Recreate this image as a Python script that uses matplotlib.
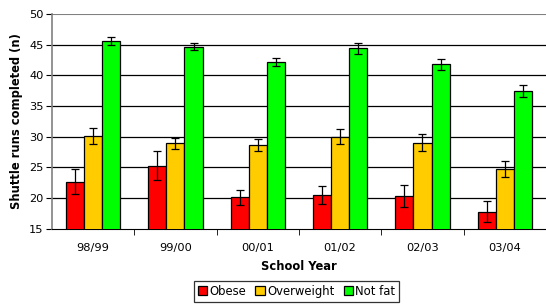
import matplotlib
matplotlib.use("Agg")
import matplotlib.pyplot as plt
import numpy as np

years = ["98/99", "99/00", "00/01", "01/02", "02/03", "03/04"]
series = ["Obese", "Overweight", "Not fat"]
obese = [22.7, 25.3, 20.1, 20.5, 20.3, 17.8]
obese_err = [2.05, 2.3, 1.15, 1.4, 1.75, 1.75]
overweight = [30.1, 28.9, 28.7, 30.0, 29.0, 24.7]
overweight_err = [1.25, 0.9, 1.0, 1.25, 1.4, 1.3]
notfat = [45.65, 44.7, 42.2, 44.4, 41.8, 37.5]
notfat_err = [0.65, 0.6, 0.65, 0.85, 0.95, 0.95]
colors = ["#ff0000", "#ffcc00", "#00ff00"]

plt.rcParams['font.family'] = ['DejaVu Sans']
fig = plt.figure(figsize=(5.46, 3.05), dpi=100)
ax = fig.add_axes([0.095, 0.25, 0.905, 0.704])

x = np.arange(len(years))
w = 0.22
vals = [obese, overweight, notfat]
errs = [obese_err, overweight_err, notfat_err]
for i, (v, e, c, name) in enumerate(zip(vals, errs, colors, series)):
    ax.bar(x + (i - 1) * w, v, width=w, bottom=0, color=c, edgecolor="black",
           linewidth=0.9, label=name, zorder=3)
    ax.errorbar(x + (i - 1) * w, v, yerr=e, fmt="none", ecolor="black",
                elinewidth=0.9, capsize=3, capthick=0.9, zorder=4)

ax.set_ylim(15, 50)
ax.set_xlim(-0.5, len(years) - 0.5)
ax.set_yticks(np.arange(15, 51, 5))
for yv in np.arange(20, 51, 5):
    ax.axhline(yv, color="black" if yv < 50 else "#808080", linewidth=0.9 if yv < 50 else 1.5, zorder=1)

ax.set_xticks(x)
ax.set_xticklabels(years, fontsize=8.2)
ax.set_xticks(np.arange(0.5, len(years) - 0.5, 1), minor=True)
ax.tick_params(axis="x", which="major", length=0, pad=10)
ax.tick_params(axis="x", which="minor", length=4, direction="out", color="black")
ax.tick_params(axis="y", length=4, direction="out", labelsize=8.2, pad=2)

for s in ["top", "right"]:
    ax.spines[s].set_visible(False)
ax.spines["left"].set_color("#808080")
ax.spines["left"].set_linewidth(1.2)
ax.spines["bottom"].set_color("black")

ax.set_ylabel("Shuttle runs completed (n)", fontsize=8.3, fontweight="bold", labelpad=4)
ax.set_xlabel("School Year", fontsize=8.3, fontweight="bold", labelpad=5)

leg = fig.legend(loc="lower center", bbox_to_anchor=(0.543, 0.003), ncol=3, fontsize=8.4,
                 frameon=True, fancybox=False, edgecolor="black", handlelength=0.8,
                 handleheight=0.8, handletextpad=0.2, columnspacing=0.8,
                 borderpad=0.35, borderaxespad=0.2)
leg.get_frame().set_linewidth(0.9)

fig.savefig("out.png", dpi=100)
